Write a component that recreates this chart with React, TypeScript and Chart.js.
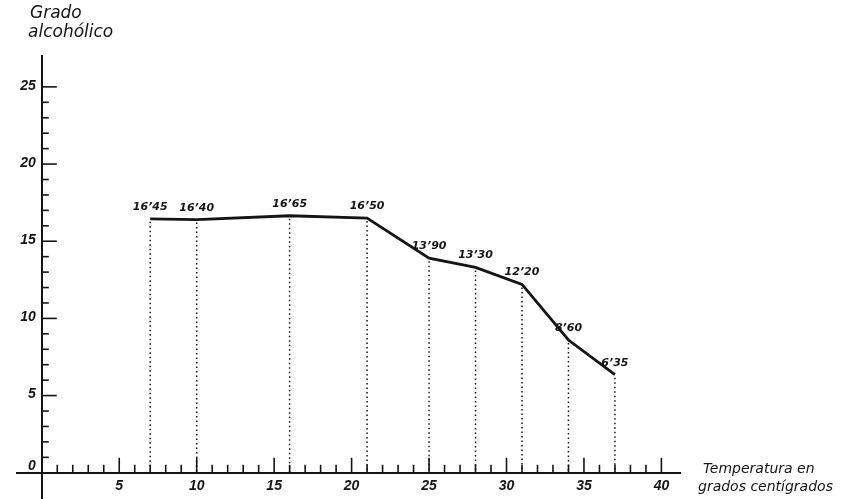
import React, { useEffect, useRef } from 'react';
import { Chart, registerables } from 'chart.js';

Chart.register(...registerables);

// ---- data ----
const temperatures = [7, 10, 16, 21, 25, 28, 31, 34, 37];
const alcoholDegrees = [16.45, 16.4, 16.65, 16.5, 13.9, 13.3, 12.2, 8.6, 6.35];
const pointLabels = ['16\u201945', '16\u201940', '16\u201965', '16\u201950', '13\u201990', '13\u201930', '12\u201920', '8\u201960', '6\u201935'];
const xTickLabels = [5, 10, 15, 20, 25, 30, 35, 40];
const yTickLabels = [0, 5, 10, 15, 20, 25];
const yAxisTitle = ['Grado', 'alcoh\u00f3lico'];
const xAxisTitle = ['Temperatura en', 'grados cent\u00edgrados'];

const INK = '#141414';
const FONT = '"DejaVu Sans", sans-serif';
const TICK_FONT = '"Liberation Sans", sans-serif';

const isInt = (v: number) => Math.abs(v - Math.round(v)) < 1e-6;

const decorPlugin = {
  id: 'decor',
  afterDatasetsDraw(chart: any) {
    const { ctx, scales } = chart;
    const xs = scales.x;
    const ys = scales.y;
    const x0 = xs.getPixelForValue(0);
    const y0 = ys.getPixelForValue(0);
    ctx.save();

    // dotted drop lines
    ctx.strokeStyle = INK;
    ctx.lineWidth = 1.5;
    ctx.setLineDash([1.5, 3]);
    temperatures.forEach((t, i) => {
      const px = xs.getPixelForValue(t);
      const py = ys.getPixelForValue(alcoholDegrees[i]);
      ctx.beginPath();
      ctx.moveTo(px, py + 3);
      ctx.lineTo(px, y0);
      ctx.stroke();
    });
    ctx.setLineDash([]);

    // tick marks (inside) and tick labels
    ctx.lineWidth = 1.6;
    ctx.fillStyle = INK;
    ctx.font = `italic bold 14px ${TICK_FONT}`;
    xs.ticks.forEach((tk: any) => {
      const v = tk.value;
      if (!isInt(v) || v < 1 || v > 40) return;
      const r = Math.round(v);
      const px = xs.getPixelForValue(v);
      const len = r % 5 === 0 ? 15 : 8;
      ctx.beginPath();
      ctx.moveTo(px, y0);
      ctx.lineTo(px, y0 - len);
      ctx.stroke();
      if (xTickLabels.includes(r)) {
        ctx.textAlign = 'center';
        ctx.textBaseline = 'middle';
        ctx.fillText(String(r), px, y0 + 13);
      }
    });
    ys.ticks.forEach((tk: any) => {
      const v = tk.value;
      if (!isInt(v) || v < 0 || v > 25) return;
      const r = Math.round(v);
      const py = ys.getPixelForValue(v);
      if (r >= 1) {
        const len = r % 5 === 0 ? 15 : 7;
        ctx.beginPath();
        ctx.moveTo(x0, py);
        ctx.lineTo(x0 + len, py);
        ctx.stroke();
      }
      if (yTickLabels.includes(r)) {
        ctx.textAlign = 'right';
        ctx.textBaseline = 'middle';
        ctx.fillText(String(r), x0 - 6, py - (r === 0 ? 7 : 1));
      }
    });

    // point value labels
    ctx.font = `italic bold 11px ${FONT}`;
    ctx.textAlign = 'center';
    ctx.textBaseline = 'alphabetic';
    temperatures.forEach((t, i) => {
      const px = xs.getPixelForValue(t);
      const py = ys.getPixelForValue(alcoholDegrees[i]);
      ctx.fillText(pointLabels[i], px, py - 9);
    });

    // axis titles
    ctx.textAlign = 'left';
    ctx.textBaseline = 'middle';
    ctx.font = `italic 17px ${FONT}`;
    ctx.fillText(yAxisTitle[0], 30, 14);
    ctx.fillText(yAxisTitle[1], 28, 33);
    ctx.font = `italic 14px ${FONT}`;
    ctx.fillText(xAxisTitle[0], 703, 469);
    ctx.fillText(xAxisTitle[1], 698, 487);

    ctx.restore();
  },
};

export default function App() {
  const canvasRef = useRef<HTMLCanvasElement | null>(null);

  useEffect(() => {
    const canvas = canvasRef.current;
    if (!canvas) return;
    const chart = new Chart(canvas, {
      type: 'scatter',
      data: {
        datasets: [
          {
            data: temperatures.map((t, i) => ({ x: t, y: alcoholDegrees[i] })),
            showLine: true,
            borderColor: INK,
            borderWidth: 2.8,
            pointRadius: 0,
            pointHoverRadius: 0,
            tension: 0,
          },
        ],
      },
      options: {
        responsive: false,
        animation: false,
        devicePixelRatio: 1,
        layout: { padding: { left: 17, top: 56, right: 171, bottom: 0 } },
        plugins: { legend: { display: false }, tooltip: { enabled: false } },
        scales: {
          x: {
            type: 'linear',
            min: -1.6,
            max: 41.2,
            position: { y: 0 } as any,
            grid: { display: false, drawTicks: false },
            border: { display: true, color: INK, width: 2 },
            ticks: { display: false, stepSize: 1, autoSkip: false },
          },
          y: {
            type: 'linear',
            min: -1.7,
            max: 27,
            position: { x: 0 } as any,
            grid: { display: false, drawTicks: false },
            border: { display: true, color: INK, width: 2 },
            ticks: { display: false, stepSize: 1, autoSkip: false },
          },
        },
      },
      plugins: [decorPlugin],
    });
    return () => chart.destroy();
  }, []);

  return (
    <div style={{ position: 'absolute', left: 0, top: 0, width: 851, height: 499, background: '#fff' }}>
      <canvas ref={canvasRef} width={851} height={499} style={{ display: 'block' }} />
    </div>
  );
}
